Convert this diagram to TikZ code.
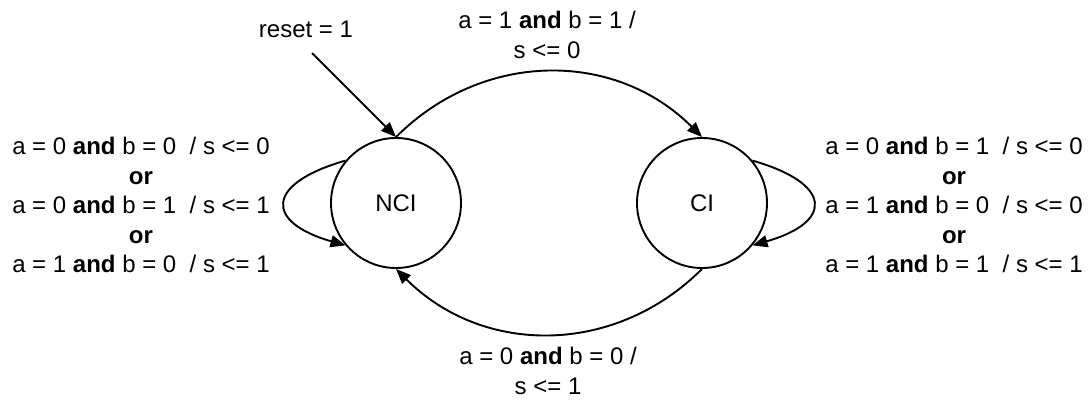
\documentclass[tikz,border=0pt]{standalone}
\usepackage{fontspec}
\setmainfont{Liberation Sans}
\usetikzlibrary{arrows.meta}

\begin{document}
\begin{tikzpicture}[x=1pt,y=1pt,
  point/.style={coordinate},
  state/.style={draw, circle, line width=1.9pt, minimum size=130pt, inner sep=0pt, font=\fontsize{24}{30}\selectfont},
  cond/.style={align=center, inner sep=0pt, font=\fontsize{24}{29.5}\selectfont},
  trans/.style={line width=1.9pt, -{Triangle[length=15pt,width=12pt]}}]
\useasboundingbox (0,0) rectangle (1092,400);
\node[state] (nci) at (396,197)  {NCI};
\node[state] (ci) at (702,197)  {CI};
\node[point] (r0) at (312,347)  {};
\node[cond] (rlab) at (306,371)  {reset = 1};
\node[cond] (top) at (547,365)  {a = 1 \textbf{and} b = 1 /\\s <= 0};
\node[cond] (bot) at (548,29)  {a = 0 \textbf{and} b = 0 /\\s <= 1};
\node[cond] (left) at (141,195)  {a = 0 \textbf{and} b = 0 \ / s <= 0\\\textbf{or}\\a = 0 \textbf{and} b = 1 \ / s <= 1\\\textbf{or}\\a = 1 \textbf{and} b = 0 \ / s <= 1};
\node[cond] (right) at (954,195)  {a = 0 \textbf{and} b = 1 \ / s <= 0\\\textbf{or}\\a = 1 \textbf{and} b = 0 \ / s <= 0\\\textbf{or}\\a = 1 \textbf{and} b = 1 \ / s <= 1};
\draw[trans]   (r0) -- (nci.north);
\draw[trans]   (nci.north) .. controls +(45:123) and +(135:123) .. (ci.north);
\draw[trans]   (ci.south) .. controls +(-135:123) and +(-45:123) .. (nci.south);
\draw[trans]   (nci.140) .. controls +(196:84) and +(164:84) .. (nci.220);
\draw[trans]   (ci.40) .. controls +(-16:84) and +(16:84) .. (ci.-40);
\end{tikzpicture}
\end{document}
